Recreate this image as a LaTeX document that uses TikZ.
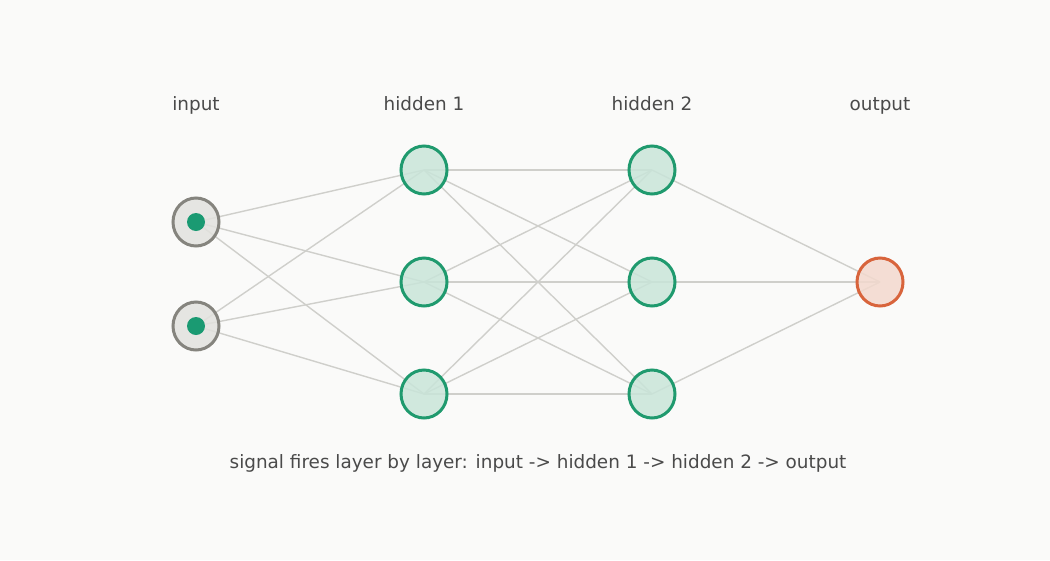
\documentclass[tikz,border=0pt]{standalone}
\usepackage{fontspec}
\setmainfont{DejaVu Sans}
\usetikzlibrary{backgrounds,shapes.geometric}
\definecolor{bg}{HTML}{FAFAF9}
\definecolor{txt}{HTML}{4A4A4A}
\definecolor{edge}{HTML}{CFCFCB}
\definecolor{instroke}{HTML}{85847E}
\definecolor{infill}{HTML}{E2E2DE}
\definecolor{hstroke}{HTML}{1F9A6E}
\definecolor{hfill}{HTML}{C9E5D9}
\definecolor{ostroke}{HTML}{D8643C}
\definecolor{ofill}{HTML}{F3D9CE}
\definecolor{dot}{HTML}{1A9A72}
\tikzset{
  neuron/.style={ellipse, minimum width=46pt, minimum height=48pt, inner sep=0pt, line width=3pt, fill opacity=0.85},
  innode/.style={neuron, draw=instroke, fill=infill},
  hnode/.style={neuron, draw=hstroke, fill=hfill},
  onode/.style={neuron, draw=ostroke, fill=ofill},
  dotnode/.style={circle, fill=dot, minimum size=18pt, inner sep=0pt},
  conn/.style={draw=edge, line width=1.4pt},
  lbl/.style={text=txt, font=\fontsize{18.4pt}{21pt}\selectfont, inner sep=0pt, text height=13.5pt, text depth=4.5pt},
}
\begin{document}
\begin{tikzpicture}[x=1pt,y=-1pt]
\useasboundingbox (0,0) rectangle (1050,560);
\node[lbl] (tin) at (196,106) {input};
\node[lbl] (th1) at (424,106) {hidden 1};
\node[lbl] (th2) at (652,106) {hidden 2};
\node[lbl] (tout) at (880,106) {output};
\node[innode] (i1) at (196,222) {};
\node[innode] (i2) at (196,326) {};
\node[hnode] (a1) at (424,170) {};
\node[hnode] (a2) at (424,282) {};
\node[hnode] (a3) at (424,394) {};
\node[hnode] (b1) at (652,170) {};
\node[hnode] (b2) at (652,282) {};
\node[hnode] (b3) at (652,394) {};
\node[onode] (o) at (880,282) {};
\begin{scope}[on background layer]
\fill[bg] (0,0) rectangle (1050,560);
\foreach \s in {i1,i2}{\foreach \t in {a1,a2,a3}{\draw[conn] (\s.center) -- (\t.center);}}
\foreach \s in {a1,a2,a3}{\foreach \t in {b1,b2,b3}{\draw[conn] (\s.center) -- (\t.center);}}
\foreach \s in {b1,b2,b3}{\draw[conn] (\s.center) -- (o.center);}
\end{scope}
\node[dotnode] (d1) at (i1.center) {};
\node[dotnode] (d2) at (i2.center) {};
\node[lbl] (cap) at (538,464) {signal fires layer by layer: input -> hidden 1 -> hidden 2 -> output};
\end{tikzpicture}
\end{document}
